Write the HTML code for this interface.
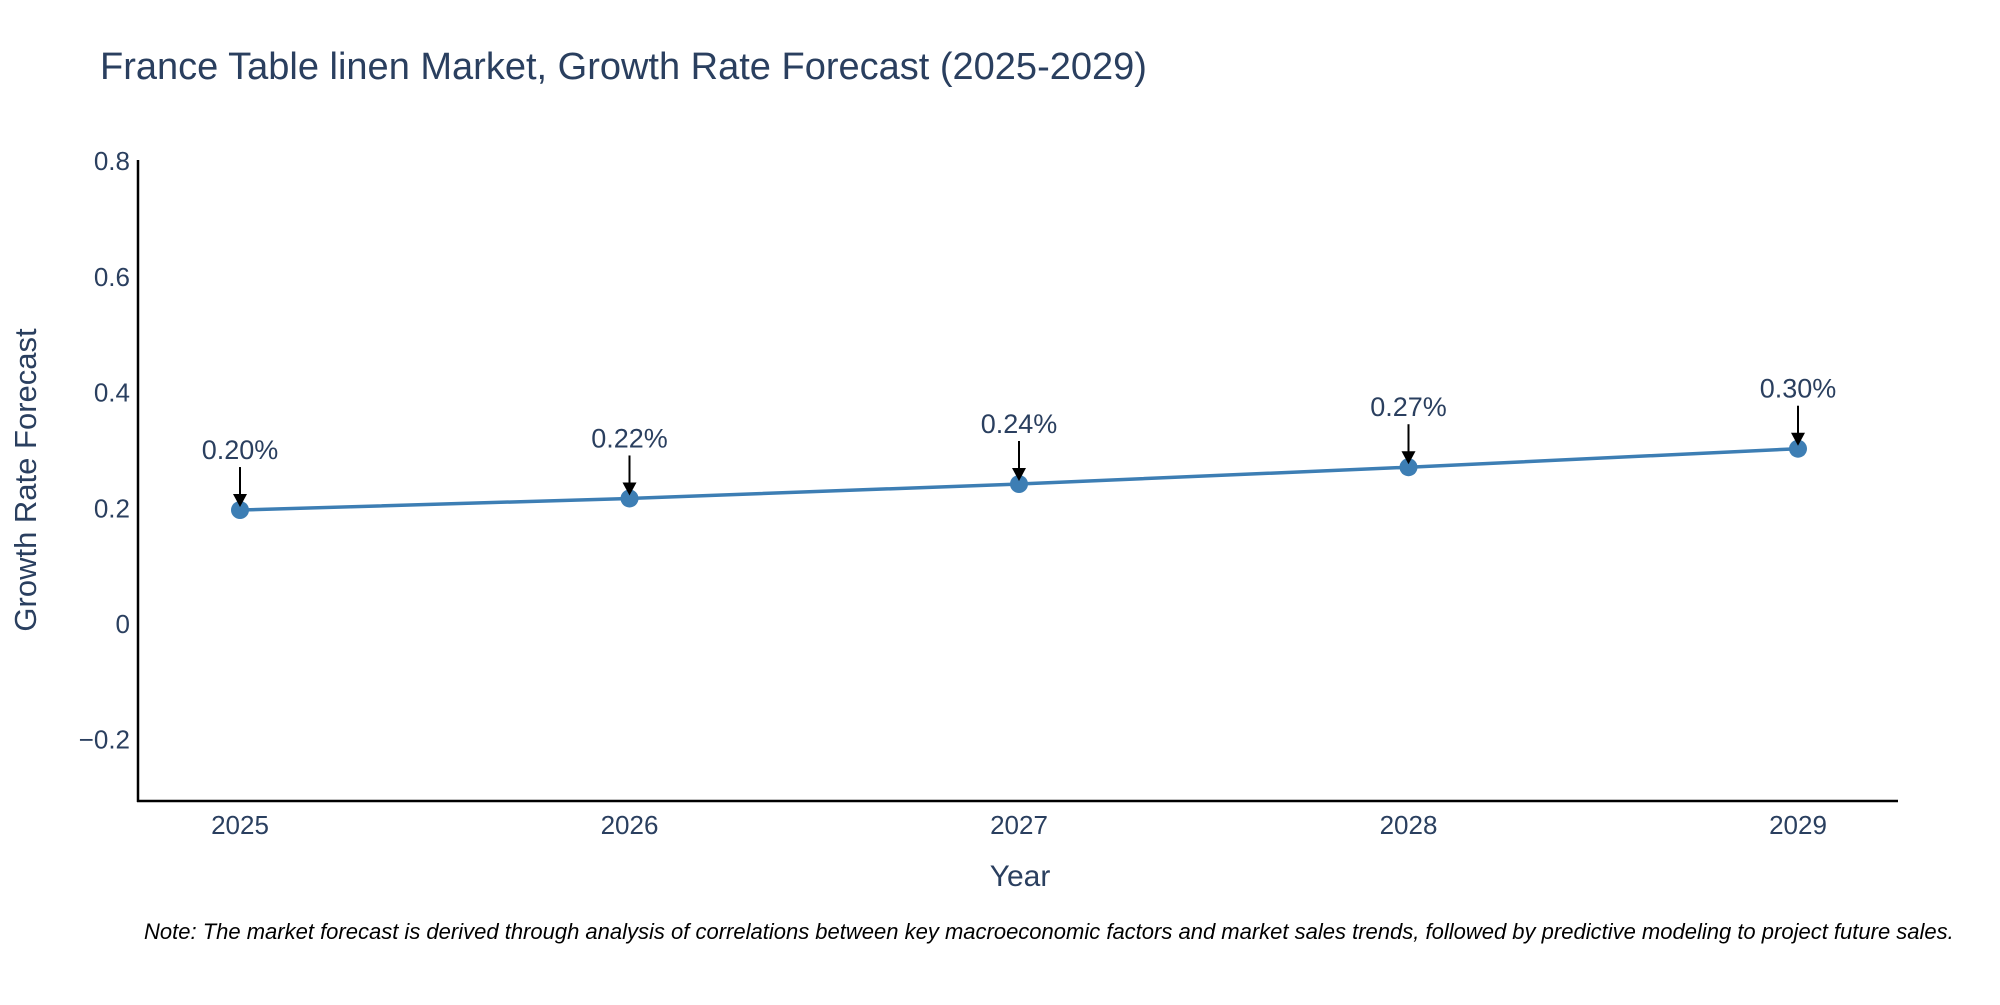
<!DOCTYPE html>
<html><head><meta charset="utf-8"><style>
body{margin:0;background:#fff;}
svg text{font-family:"Liberation Sans","DejaVu Sans",sans-serif;fill:#2a3f5f;}
</style></head><body>
<svg id="chart" width="2000" height="1000" xmlns="http://www.w3.org/2000/svg">
<rect width="2000" height="1000" fill="#fff"/>
<text x="100" y="79" font-size="38">France Table linen Market, Growth Rate Forecast (2025-2029)</text>
<g id="yticks"></g><g id="xticks"></g>
<line x1="138" y1="160" x2="138" y2="802" stroke="#000" stroke-width="2.5"/>
<line x1="137" y1="801" x2="1898" y2="801" stroke="#000" stroke-width="2.5"/>
<text transform="translate(36,480) rotate(-90)" text-anchor="middle" font-size="31">Growth Rate Forecast</text>
<text x="1020" y="886" text-anchor="middle" font-size="30">Year</text>
<g id="series"></g>
<text x="144" y="939" font-size="22" font-style="italic" style="fill:#000">Note: The market forecast is derived through analysis of correlations between key macroeconomic factors and market sales trends, followed by predictive modeling to project future sales.</text>
</svg>
<script>
const years = ["2025","2026","2027","2028","2029"];
const values = [0.197, 0.217, 0.242, 0.271, 0.303];
const labels = ["0.20%","0.22%","0.24%","0.27%","0.30%"];
const yTicks = [-0.2, 0, 0.2, 0.4, 0.6, 0.8];
const yTickLabels = ["\u22120.2","0","0.2","0.4","0.6","0.8"];
const NS="http://www.w3.org/2000/svg";
function xs(i){return 240 + i*389.5;}
function ys(v){return 624 - v*578.5;}
function mk(tag,attrs,parent){const e=document.createElementNS(NS,tag);for(const k in attrs)e.setAttribute(k,attrs[k]);parent.appendChild(e);return e;}
const yt=document.getElementById('yticks');
yTicks.forEach((v,i)=>{const t=mk('text',{x:130,y:ys(v)+9,'text-anchor':'end','font-size':26},yt);


t.textContent=yTickLabels[i];});
const xt=document.getElementById('xticks');
years.forEach((y,i)=>{const t=mk('text',{x:xs(i),y:834,'text-anchor':'middle','font-size':26},xt);


t.textContent=y;});
const s=document.getElementById('series');
const line=mk('polyline',{points:values.map((v,i)=>xs(i)+','+ys(v)).join(' '),fill:'none',stroke:'#3d7eb4','stroke-width':3.5},s);


values.forEach((v,i)=>{
 const x=xs(i),y=ys(v);
 const c=mk('circle',{cx:x,cy:y,r:9,fill:'#3d7eb4'},s);
 
 
 const a=mk('line',{x1:x,y1:y-43,x2:x,y2:y-14,stroke:'#000','stroke-width':2},s);
 
 
 const h=mk('polygon',{points:`${x-7},${y-16} ${x+7},${y-16} ${x},${y-3}`,fill:'#000'},s);
 
 
 const t=mk('text',{x:x,y:y-51,'text-anchor':'middle','font-size':27},s);
 
 
 t.textContent=labels[i];
});
</script>
</body></html>
